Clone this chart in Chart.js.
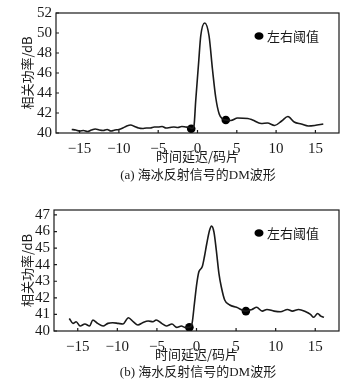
<!DOCTYPE html>
<html><head><meta charset="utf-8">
<script src="https://cdn.jsdelivr.net/npm/chart.js@4.4.1/dist/chart.umd.min.js"></script>
<style>
html,body{margin:0;padding:0;background:#fff;}
body{width:359px;height:386px;overflow:hidden;position:relative;}
.box{position:absolute;left:0;width:359px;}
.cap{position:absolute;left:98px;width:200px;text-align:center;font:13px/16px "Liberation Serif","Noto Sans CJK SC",serif;color:#1a1a1a;white-space:nowrap;}
</style></head><body>
<div class="box" style="top:0;height:195px"><canvas id="ca"></canvas></div>
<div class="box" style="top:195px;height:191px"><canvas id="cb"></canvas></div>
<div class="cap" style="top:167px">(a) 海冰反射信号的DM波形</div>
<div class="cap" style="top:364px">(b) 海水反射信号的DM波形</div>
<script>
// ---- data (a) sea ice ----
const delayA = [-16,-15.5,-15,-14.5,-14,-13.5,-13,-12.5,-12,-11.5,-11,-10.5,-10,-9.5,-9,-8.5,-8,-7.5,-7,-6.5,-6,-5.5,-5,-4.5,-4,-3.5,-3,-2.5,-2,-1.5,-1,-0.7,-0.45,-0.23,0.15,0.41,0.92,1.47,1.9,2.33,2.76,3.2,3.6,4.25,5.1,6.4,7.0,8.1,8.9,9.8,10.7,11.5,12.3,13.2,14.1,14.9,16];
const powerA = [40.35,40.3,40.2,40.25,40.15,40.3,40.4,40.3,40.25,40.35,40.2,40.3,40.35,40.5,40.7,40.8,40.65,40.5,40.45,40.5,40.5,40.6,40.6,40.65,40.5,40.55,40.6,40.55,40.65,40.6,40.55,40.45,40.7,43.2,47.1,49.7,51.0,49.7,46.4,43.5,41.9,41.4,41.3,41.25,41.5,41.45,41.3,40.95,41.0,40.75,41.2,41.65,41.1,40.9,40.7,40.75,40.9];
const thrDelayA = [-0.8, 3.6];
const thrPowerA = [40.42, 41.3];
// ---- data (b) sea water ----
const delayB = [-16.07,-15.6,-15.2,-14.7,-14.1,-13.5,-13.1,-12.5,-11.8,-11.2,-10.6,-9.9,-9.3,-8.6,-8.0,-7.4,-6.8,-6.1,-5.5,-5.1,-4.4,-3.8,-3.1,-2.5,-1.9,-1.5,-0.9,-0.56,-0.26,0.04,0.3,0.72,1.0,1.3,1.65,1.9,2.2,2.5,2.83,3.13,3.56,4.2,5.06,6.24,7.0,7.6,8.3,8.9,9.8,10.6,11.5,12.1,12.9,13.8,14.4,14.8,15.3,15.7,16.1];
const powerB = [40.76,40.46,40.56,40.3,40.42,40.3,40.66,40.46,40.3,40.46,40.5,40.46,40.42,40.8,40.56,40.36,40.5,40.6,40.56,40.66,40.46,40.3,40.42,40.22,40.3,40.22,40.22,40.46,41.67,42.87,43.57,43.87,44.48,45.28,46.08,46.33,45.98,44.88,43.48,42.67,41.87,41.57,41.43,41.2,41.3,41.43,41.2,41.3,41.2,41.16,41.3,41.2,41.3,41.16,41.0,40.83,41.06,40.9,40.83];
const thrDelayB = [-0.9, 6.24];
const thrPowerB = [40.22, 41.2];
// ---- ticks / labels ----
const xTicks = [-15,-10,-5,0,5,10,15];
const yTicksA = [40,42,44,46,48,50,52];
const yTicksB = [40,41,42,43,44,45,46,47];
const xTitle = '时间延迟/码片';
const yTitle = '相关功率/dB';
const legendLabel = '左右阈值';

const INK = '#1a1a1a';
const numFont = {family:'"Liberation Serif", serif', size:15};
const cjkFont = {family:'"Noto Sans CJK SC", sans-serif', size:13};

const frame = {
  id:'frame',
  afterDraw(chart){
    const {ctx, chartArea:a, scales} = chart;
    ctx.save();
    ctx.strokeStyle = INK; ctx.lineWidth = 1.2;
    ctx.strokeRect(a.left, a.top, a.right-a.left, a.bottom-a.top);
    ctx.beginPath();
    scales.x.ticks.forEach(t=>{
      const px = scales.x.getPixelForValue(t.value);
      ctx.moveTo(px, a.bottom); ctx.lineTo(px, a.bottom-3);
    });
    scales.y.ticks.forEach(t=>{
      const py = scales.y.getPixelForValue(t.value);
      ctx.moveTo(a.left, py); ctx.lineTo(a.left+3, py);
    });
    ctx.stroke();
    // legend for threshold markers
    const ds = chart.data.datasets[1];
    const lx = a.right - 80, ly = a.top + 23;
    ctx.fillStyle = '#000';
    ctx.beginPath(); ctx.ellipse(lx, ly, 4.5, 3.8, 0, 0, Math.PI*2); ctx.fill();
    ctx.fillStyle = INK;
    ctx.font = cjkFont.size + 'px ' + cjkFont.family;
    ctx.textBaseline = 'middle'; ctx.textAlign = 'left';
    ctx.fillText(ds.label, lx + 8, ly);
    ctx.restore();
  }
};

function makeChart(id, dl, pw, td, tp, yMin, yMax, yTicks, yWidth, pad){
  return new Chart(document.getElementById(id), {
    type:'line',
    data:{datasets:[
      {data: dl.map((x,i)=>({x, y: pw[i]})), borderColor:INK, borderWidth:1.6, pointRadius:0, tension:0.4, cubicInterpolationMode:'monotone', fill:false},
      {label: legendLabel, data: td.map((x,i)=>({x, y: tp[i]})), showLine:false, pointRadius:4.3, pointStyle:'circle', backgroundColor:'#000', borderColor:'#000', pointBorderWidth:0}
    ]},
    options:{
      responsive:true, maintainAspectRatio:false, animation:false,
      layout:{padding: pad},
      plugins:{ legend:{display:false}, tooltip:{enabled:false}, title:{display:false} },
      scales:{
        x:{type:'linear', min:-18, max:18,
          afterBuildTicks: s => { s.ticks = xTicks.map(v=>({value:v})); },
          afterFit: s => { s.height = 31; },
          grid:{display:false, drawTicks:false}, border:{display:false},
          ticks:{font:numFont, color:INK, padding:7, maxRotation:0, autoSkip:false,
            callback: v => String(v).replace('-', '\u2212')},
          title:{display:true, text:xTitle, font:cjkFont, color:INK, padding:0}},
        y:{type:'linear', min:yMin, max:yMax,
          afterBuildTicks: s => { s.ticks = yTicks.map(v=>({value:v})); },
          afterFit: s => { s.width = yWidth; },
          grid:{display:false, drawTicks:false}, border:{display:false},
          ticks:{font:numFont, color:INK, padding:4, autoSkip:false},
          title:{display:true, text:yTitle, font:cjkFont, color:INK, padding:{top:19, bottom:0}}}
      }
    },
    plugins:[frame]
  });
}

makeChart('ca', delayA, powerA, thrDelayA, thrPowerA, 40, 52, yTicksA, 56, {left:0, right:20, top:9, bottom:31});
makeChart('cb', delayB, powerB, thrDelayB, thrPowerB, 40, 47.3, yTicksB, 54, {left:0, right:20, top:15, bottom:24});
</script>
</body></html>
